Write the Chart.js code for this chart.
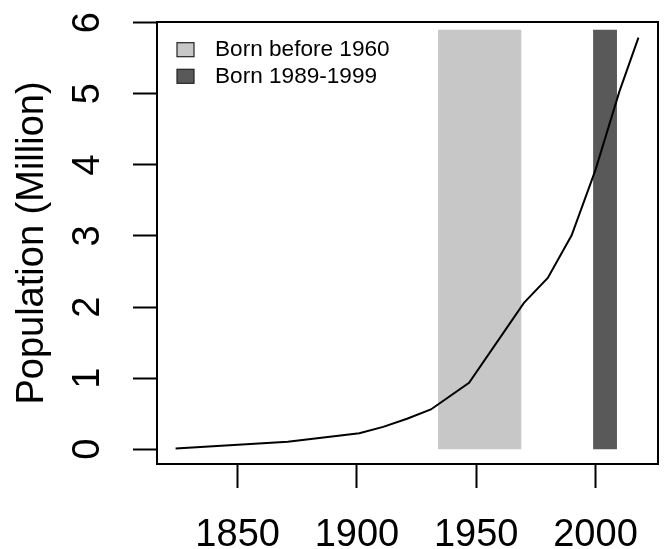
<!DOCTYPE html>
<html>
<head>
<meta charset="utf-8">
<script src="https://cdn.jsdelivr.net/npm/chart.js@4.4.0/dist/chart.umd.min.js"></script>
<style>
  html, body { margin: 0; padding: 0; background: #fff; }
  canvas { display: block; }
</style>
</head>
<body>
<canvas id="popChart" width="665" height="549"></canvas>
<script>
// population line
const years = [1824, 1871, 1901, 1911, 1921, 1931, 1947, 1970, 1980, 1990, 2000, 2010, 2018];
const population = [0.011, 0.105, 0.225, 0.315, 0.43, 0.56, 0.935, 2.06, 2.41, 3.01, 3.93, 5.03, 5.79];

// shaded cohort bands
const cohortLabels = ['Born before 1960', 'Born 1989-1999'];
const cohortStart = [1934, 1999];
const cohortEnd = [1969, 2009];
const cohortTop = [5.9, 5.9];
const cohortColours = ['#C7C7C7', '#595959'];

const xTicks = [1850, 1900, 1950, 2000];
const yTicks = [0, 1, 2, 3, 4, 5, 6];

const fontFamily = '"Liberation Sans", Arial, Helvetica, sans-serif';

// box round the plot plus the legend in the top-left corner
const framePlugin = {
    id: 'frame',
    afterDraw(chart) {
        const { ctx, chartArea: a } = chart;
        ctx.save();
        ctx.strokeStyle = '#000';
        ctx.lineWidth = 2;
        ctx.strokeRect(a.left, a.top, a.right - a.left, a.bottom - a.top);

        ctx.font = `22.6px ${fontFamily}`;
        ctx.textBaseline = 'middle';
        ctx.textAlign = 'left';
        cohortLabels.forEach((label, i) => {
            const cy = a.top + 27.7 + i * 26.6;
            ctx.fillStyle = cohortColours[i];
            ctx.fillRect(a.left + 20, cy - 7, 17, 14);
            ctx.lineWidth = 1.2;
            ctx.strokeStyle = '#222';
            ctx.strokeRect(a.left + 20, cy - 7, 17, 14);
            ctx.fillStyle = '#000';
            ctx.fillText(label, a.left + 58, cy);
        });
        ctx.restore();
    },
};

const datasets = [
    {
        label: 'Population',
        data: years.map((y, i) => ({ x: y, y: population[i] })),
        borderColor: '#000',
        borderWidth: 2,
        pointRadius: 0,
        tension: 0,
        fill: false,
    },
];

cohortLabels.forEach((label, i) => {
    datasets.push({
        label,
        data: [
            { x: cohortStart[i], y: cohortTop[i] },
            { x: cohortEnd[i], y: cohortTop[i] },
        ],
        borderWidth: 0,
        borderColor: 'rgba(0,0,0,0)',
        backgroundColor: cohortColours[i],
        pointRadius: 0,
        fill: 'origin',
    });
});

new Chart(document.getElementById('popChart'), {
    type: 'line',
    data: { datasets },
    options: {
        responsive: false,
        animation: false,
        layout: { padding: { top: 22, right: 7, left: 0, bottom: 0 } },
        plugins: {
            legend: { display: false },
            tooltip: { enabled: false },
        },
        scales: {
            x: {
                type: 'linear',
                min: 1816.2,
                max: 2026.2,
                afterBuildTicks: (scale) => { scale.ticks = xTicks.map(v => ({ value: v })); },
                afterFit: (scale) => { scale.height = 85; scale.paddingLeft = 0; scale.paddingRight = 0; },
                ticks: {
                    autoSkip: false,
                    maxRotation: 0,
                    padding: 25,
                    color: '#000',
                    font: { family: fontFamily, size: 38 },
                    callback: (v) => String(v),
                },
                grid: { drawOnChartArea: false, tickLength: 24, tickColor: '#000', tickWidth: 2 },
                border: { display: false },
            },
            y: {
                type: 'linear',
                min: -0.207,
                max: 6.01,
                afterBuildTicks: (scale) => { scale.ticks = yTicks.map(v => ({ value: v })); },
                afterFit: (scale) => { scale.width = 157; scale.paddingTop = 0; scale.paddingBottom = 0; },
                ticks: {
                    minRotation: 90,
                    maxRotation: 90,
                    crossAlign: 'center',
                    padding: 34,
                    color: '#000',
                    font: { family: fontFamily, size: 38 },
                    callback: (v) => String(v),
                },
                grid: { drawOnChartArea: false, tickLength: 24, tickColor: '#000', tickWidth: 2 },
                border: { display: false },
                title: {
                    display: true,
                    text: 'Population (Million)',
                    color: '#000',
                    font: { family: fontFamily, size: 38 },
                    padding: { top: 10, bottom: 0 },
                },
            },
        },
    },
    plugins: [framePlugin],
});
</script>
</body>
</html>
